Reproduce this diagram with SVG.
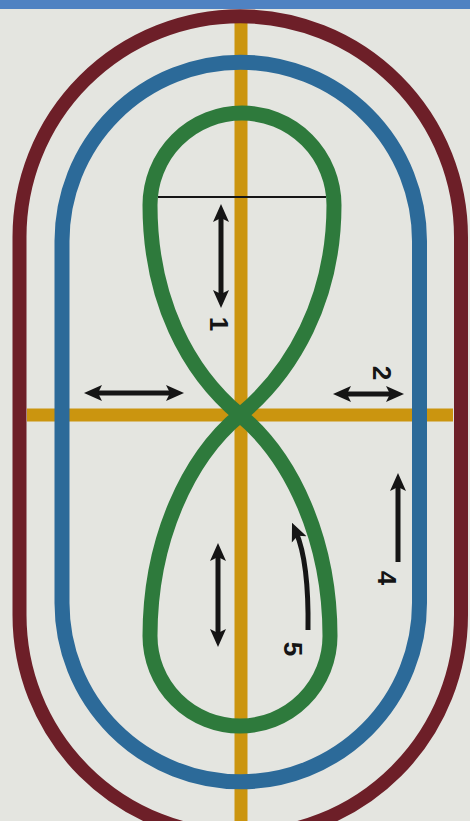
<svg xmlns="http://www.w3.org/2000/svg" width="470" height="821" viewBox="0 0 470 821">
  <style>
    .track { fill: none; }
    .orange { stroke: #cb950f; stroke-width: 13; fill: none; }
    .arrow { stroke: #151515; stroke-width: 5; fill: none; }
    .lbl { font-family: "Liberation Sans", Arial, sans-serif; font-weight: bold; font-size: 26px; fill: #151515; text-anchor: middle; dominant-baseline: central; }
  </style>
  <defs>
    <marker id="ah" markerUnits="userSpaceOnUse" markerWidth="18" markerHeight="18" viewBox="0 0 18 18" refX="8" refY="9" orient="auto-start-reverse">
      <path d="M0,1 L18,9 L0,17 L4,9 Z" fill="#151515"/>
    </marker>
  </defs>
  <rect x="0" y="0" width="470" height="821" fill="#e4e5e0"/>

  <g id="guides">
    <line class="orange" x1="241" y1="18" x2="241" y2="821"/>
    <line class="orange" x1="27" y1="415" x2="453" y2="415"/>
  </g>

  <g id="outer-track">
    <path class="track" stroke="#6d1f28" stroke-width="14" d="M19.5,237 A220.75,220.75 0 0 1 461,237 L461,615 A220.75,220.75 0 0 1 19.5,615 Z"/>
  </g>
  <g id="middle-track">
    <path class="track" stroke="#2c6a99" stroke-width="15" d="M62,241 A178.75,178.75 0 0 1 419.5,241 L419.5,603 A178.75,178.75 0 0 1 62,603 Z"/>
  </g>
  <g id="figure-eight">
    <path class="track" stroke="#2e7a3c" stroke-width="15" stroke-linejoin="round" d="M240,415 C188,458 150,540 150,636 A90,90 0 0 0 330,636 C330,540 292,458 240,415 C188,372 150,300 150,205 A92,92 0 0 1 334,205 C334,300 292,372 240,415 Z"/>
  </g>
  <g id="top-bar">
    <rect x="0" y="0" width="470" height="9" fill="#4f82c2"/>
  </g>

  <g id="connectors">
    <line id="mark-line" x1="158" y1="197" x2="326" y2="197" stroke="#151515" stroke-width="2"/>
    <line class="arrow" x1="221" y1="214" x2="221" y2="298" marker-start="url(#ah)" marker-end="url(#ah)"/>
    <line class="arrow" x1="343" y1="394" x2="394" y2="394" marker-start="url(#ah)" marker-end="url(#ah)"/>
    <line class="arrow" x1="94" y1="393" x2="174" y2="393" marker-start="url(#ah)" marker-end="url(#ah)"/>
    <line class="arrow" x1="398" y1="562" x2="398" y2="483" marker-end="url(#ah)"/>
    <path class="arrow" d="M308,630 Q309,562 296,532" marker-end="url(#ah)"/>
    <line class="arrow" x1="218" y1="553" x2="218" y2="637" marker-start="url(#ah)" marker-end="url(#ah)"/>
  </g>

  <g id="labels">
    <text class="lbl" transform="translate(219,324) rotate(90)">1</text>
    <text class="lbl" transform="translate(382,373) rotate(90)">2</text>
    <text class="lbl" transform="translate(387,578) rotate(90)">4</text>
    <text class="lbl" transform="translate(293,649) rotate(90)">5</text>
  </g>
</svg>
